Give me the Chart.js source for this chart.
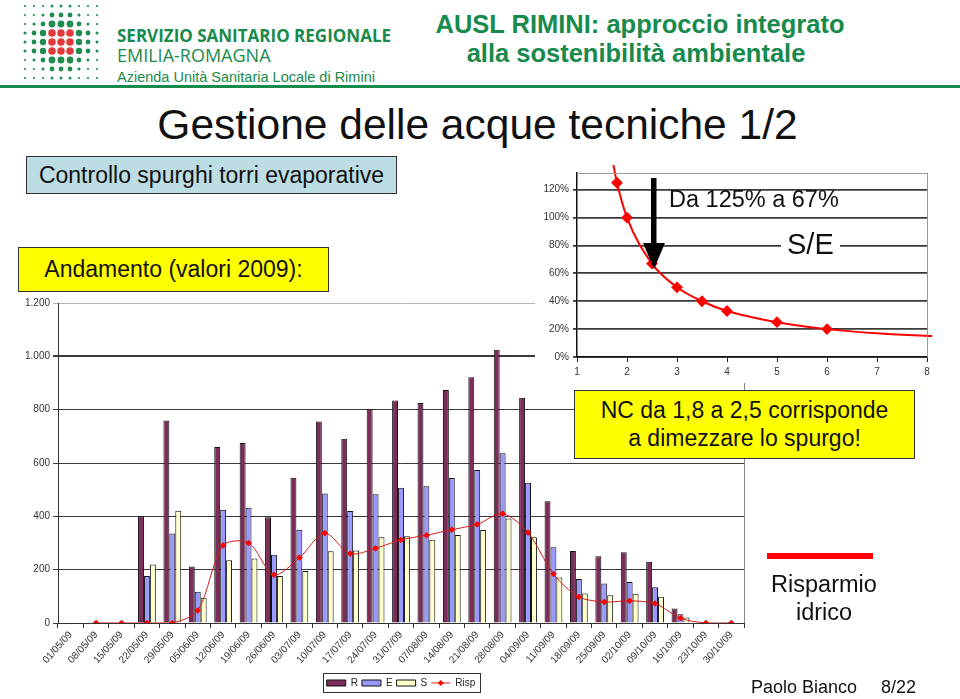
<!DOCTYPE html>
<html lang="it">
<head>
<meta charset="utf-8">
<title>Gestione delle acque tecniche 1/2</title>
<script src="https://cdn.jsdelivr.net/npm/chart.js@4/dist/chart.umd.min.js"></script>
<style>
  html, body { margin: 0; padding: 0; }
  body {
    width: 960px; height: 699px; overflow: hidden; position: relative;
    background: #fff; font-family: Arial, "Liberation Sans", sans-serif; color: #111;
  }
  .abs { position: absolute; white-space: nowrap; line-height: 1; }
  .green { color: #178a4c; }
  #logo { position: absolute; left: 0; top: 0; }
  .rule { position: absolute; left: 0; top: 85px; width: 960px; height: 3px; background: #178a4c; }
  .box { position: absolute; border: 1px solid #333; box-sizing: border-box; display: flex; align-items: center; justify-content: center; }
  #mainWrap { position: absolute; left: 0; top: 290px; width: 802px; height: 408px; }
  #insetWrap { position: absolute; left: 535px; top: 163px; width: 425px; height: 220px; background: #fff; }
</style>
</head>
<body>

<canvas id="logo" width="110" height="84"></canvas>
<div class="abs green" style="left:117px;top:27px;font-family:'Open Sans';font-weight:700;font-size:17px;">SERVIZIO SANITARIO REGIONALE</div>
<div class="abs green" style="left:117px;top:46px;font-family:'Open Sans';font-size:18px;">EMILIA-ROMAGNA</div>
<div class="abs green" style="left:117px;top:69.5px;font-size:14.5px;">Azienda Unità Sanitaria Locale di Rimini</div>
<div class="abs green" style="left:390px;width:500px;text-align:center;top:12px;font-weight:700;font-size:25.5px;">AUSL RIMINI: approccio integrato</div>
<div class="abs green" style="left:386px;width:500px;text-align:center;top:41px;font-weight:700;font-size:25.5px;">alla sostenibilità ambientale</div>
<div class="rule"></div>

<div class="abs" style="left:0;width:955px;text-align:center;top:104px;font-size:42.5px;">Gestione delle acque tecniche 1/2</div>

<div class="box" style="left:26px;top:156px;width:371px;height:38px;background:#bcdde3;font-size:23px;z-index:3;">Controllo spurghi torri evaporative</div>
<div class="box" style="left:18px;top:247px;width:311px;height:45px;background:#ffff00;font-size:23px;z-index:3;">Andamento (valori 2009):</div>

<div id="mainWrap"><canvas id="mainChart" width="802" height="408"></canvas></div>

<div id="insetWrap"><canvas id="insetChart" width="425" height="220"></canvas></div>
<div class="abs" style="left:669px;top:188px;font-size:23.5px;z-index:4;">Da 125% a 67%</div>
<div class="abs" style="left:781px;top:230px;font-size:29px;background:#fff;padding:0 6px;z-index:4;">S/E</div>
<svg class="abs" style="left:0;top:0;z-index:5;" width="960" height="300">
  <rect x="651" y="178" width="5.5" height="67" fill="#000"/>
  <polygon points="643,243 665,243 654,269" fill="#000"/>
</svg>

<div class="box" style="left:574px;top:390px;width:341px;height:69px;background:#ffff00;font-size:23px;line-height:28px;text-align:center;z-index:4;display:block;padding-top:5px;">NC da 1,8 a 2,5 corrisponde<br>a dimezzare lo spurgo!</div>

<div class="abs" style="left:767px;top:553px;width:106px;height:6px;background:#ff0000;"></div>
<div class="abs" style="left:724px;width:200px;text-align:center;top:570px;font-size:23.5px;line-height:28px;">Risparmio<br>idrico</div>

<div class="abs" style="left:751px;top:678px;font-size:18px;">Paolo Bianco</div>
<div class="abs" style="left:881px;top:678px;font-size:18px;">8/22</div>

<script>
/* ==========================================================================
   Data — weekly purge values 2009 (R, E, S, Risp) and S/E vs NC curve
   ========================================================================== */

const weeks = [
  '01/05/09', '08/05/09', '15/05/09', '22/05/09', '29/05/09', '05/06/09', '12/06/09',
  '19/06/09', '26/06/09', '03/07/09', '10/07/09', '17/07/09', '24/07/09', '31/07/09',
  '07/08/09', '14/08/09', '21/08/09', '28/08/09', '04/09/09', '11/09/09', '18/09/09',
  '25/09/09', '02/10/09', '09/10/09', '16/10/09', '23/10/09', '30/10/09'
];

const valuesR = [null, null, null, 400, 759, 212, 660, 675, 397, 545, 756, 691, 803, 834,
  825, 874, 922, 1025, 845, 457, 270, 250, 265, 230, 54, null, null];
const valuesE = [null, null, null, 176, 336, 117, 425, 432, 256, 350, 486, 420, 483, 507,
  513, 544, 574, 637, 526, 284, 165, 148, 154, 134, 33, null, null];
const valuesS = [null, null, null, 219, 421, 95, 235, 242, 176, 195, 269, 272, 322, 325,
  312, 330, 349, 392, 322, 171, 111, 104, 110, 98, 21, null, null];
const valuesRisp = [null, 0, 0, 0, 0, 47, 291, 300, 181, 245, 337, 260, 280, 312,
  329, 350, 370, 410, 339, 184, 98, 79, 83, 73, 18, 0, 0];

const yTicksMain = [0, 200, 400, 600, 800, 1000, 1200];

// inset: S/E ratio against concentration cycles (NC)
const ncValues = [1.7, 1.8, 2, 2.5, 3, 3.5, 4, 5, 6, 7, 8.1];
const seValues = [1.43, 1.25, 1.00, 0.67, 0.50, 0.40, 0.33, 0.25, 0.20, 0.17, 0.15];
const seMarked = [false, true, true, true, true, true, true, true, true, false, false];

const colors = { R: '#7b2c58', E: '#9999ff', S: '#ffffcc', risp: '#d41c1c', rispPoint: '#ff0000' };

/* ==========================================================================
   Logo dots
   ========================================================================== */

(function drawLogo() {
  const ctx = document.getElementById('logo').getContext('2d');
  const sizes = [
    [1.1, 1.1, 1.1, 1.5, 1.5, 1.5, 1.1, 1.1, 1.1],
    [1.1, 1.1, 1.5, 2.4, 2.4, 2.4, 1.5, 1.1, 1.1],
    [1.1, 1.5, 2.4, 3.4, 3.4, 3.4, 2.4, 1.5, 1.1],
    [1.5, 2.4, 3.2, 3.8, 3.8, 3.8, 3.2, 2.4, 1.5],
    [1.5, 2.4, 3.2, 3.8, 3.8, 3.8, 3.2, 2.4, 1.5],
    [1.5, 2.4, 3.2, 3.8, 3.8, 3.8, 3.2, 2.4, 1.5],
    [1.1, 1.5, 2.4, 3.4, 3.4, 3.4, 2.4, 1.5, 1.1],
    [1.1, 1.1, 1.5, 2.4, 2.4, 2.4, 1.5, 1.1, 1.1],
    [1.1, 1.1, 1.1, 1.5, 1.5, 1.5, 1.1, 1.1, 1.1]
  ];
  sizes.forEach((row, r) => row.forEach((rad, c) => {
    const red = r >= 3 && r <= 5 && c >= 3 && c <= 5;
    ctx.fillStyle = red ? '#e2393c' : '#1f8c4e';
    ctx.beginPath();
    ctx.arc(25 + c * 9, 6 + r * 9, rad, 0, Math.PI * 2);
    ctx.fill();
  }));
})();

/* ==========================================================================
   Chart helpers
   ========================================================================== */

Chart.defaults.font.family = 'Arial, "Liberation Sans", sans-serif';
Chart.defaults.color = '#333';

const fmtThousands = v => v >= 1000 ? Math.floor(v / 1000) + '.' + String(v % 1000).padStart(3, '0') : String(v);

// frame lines + legend box with the Risp line/marker sample
const slideExtras = {
  id: 'slideExtras',
  afterDraw(chart, args, opts) {
    const { ctx, chartArea: a } = chart;
    ctx.save();
    ctx.strokeStyle = opts.frameColor || '#888';
    ctx.lineWidth = 1;
    ctx.beginPath();
    if (opts.right) {
      const x = Math.round(a.right) + 0.5;
      ctx.moveTo(x, a.top); ctx.lineTo(x, a.bottom);
    }
    if (opts.top) {
      const y = Math.round(a.top) + 0.5;
      ctx.moveTo(a.left, y); ctx.lineTo(a.right, y);
    }
    ctx.stroke();

    const lg = chart.legend;
    if (opts.legendFrame && lg && lg.legendHitBoxes && lg.legendHitBoxes.length) {
      const hb = lg.legendHitBoxes;
      const l = Math.min(...hb.map(h => h.left)) - 4;
      const r = Math.max(...hb.map(h => h.left + h.width)) + 4;
      const t = Math.min(...hb.map(h => h.top)) - 5;
      const b = Math.max(...hb.map(h => h.top + h.height)) + 4;
      ctx.strokeStyle = '#333';
      ctx.strokeRect(Math.round(l) + 0.5, Math.round(t) + 0.5, Math.round(r - l), Math.round(b - t));

      const idx = lg.legendItems.findIndex(it => it.text === 'Risp');
      if (idx >= 0) {
        const h = hb[idx];
        const bw = lg.options.labels.boxWidth;
        const cy = h.top + h.height / 2;
        ctx.strokeStyle = colors.risp;
        ctx.beginPath();
        ctx.moveTo(h.left, cy); ctx.lineTo(h.left + bw, cy);
        ctx.stroke();
        ctx.fillStyle = colors.rispPoint;
        ctx.beginPath();
        const cx = h.left + bw / 2;
        ctx.moveTo(cx, cy - 3); ctx.lineTo(cx + 3, cy); ctx.lineTo(cx, cy + 3); ctx.lineTo(cx - 3, cy);
        ctx.closePath();
        ctx.fill();
      }
    }
    ctx.restore();
  }
};

/* ==========================================================================
   Main chart — R / E / S bars and Risp line
   ========================================================================== */

const barStyle = { borderColor: '#111', borderWidth: 1, barPercentage: 1, categoryPercentage: 0.7, order: 1 };

new Chart(document.getElementById('mainChart'), {
  type: 'bar',
  data: {
    labels: weeks,
    datasets: [
      { label: 'R', data: valuesR, backgroundColor: colors.R, ...barStyle },
      { label: 'E', data: valuesE, backgroundColor: colors.E, ...barStyle },
      { label: 'S', data: valuesS, backgroundColor: colors.S, ...barStyle },
      {
        type: 'line', label: 'Risp', data: valuesRisp, order: 0,
        borderColor: colors.risp, borderWidth: 1, tension: 0.3,
        pointStyle: 'rectRot', pointRadius: 2.8,
        pointBackgroundColor: colors.rispPoint, pointBorderColor: colors.rispPoint
      }
    ]
  },
  options: {
    responsive: false, animation: false,
    layout: { padding: { top: 13, left: 0, right: 0, bottom: 0 } },
    plugins: {
      tooltip: { enabled: false },
      legend: {
        position: 'bottom',
        labels: {
          boxWidth: 19, boxHeight: 6, padding: 4, color: '#222',
          font: { size: 10 },
          sort: (a, b) => a.datasetIndex - b.datasetIndex,
          generateLabels: chart => Chart.defaults.plugins.legend.labels.generateLabels(chart).map(item =>
            item.text === 'Risp' ? { ...item, fillStyle: 'rgba(0,0,0,0)', strokeStyle: 'rgba(0,0,0,0)', lineWidth: 0 } : item)
        }
      },
      slideExtras: { right: true, frameColor: '#888', legendFrame: true }
    },
    scales: {
      x: {
        grid: { drawOnChartArea: false, tickLength: 5, color: '#333' },
        border: { color: '#333' },
        ticks: { minRotation: 48, maxRotation: 48, autoSkip: false, padding: 1, font: { size: 10 }, color: '#333' },
        afterFit: s => { s.height = 51; }
      },
      y: {
        min: 0, max: 1200,
        afterBuildTicks: s => { s.ticks = yTicksMain.map(v => ({ value: v })); },
        grid: {
          tickLength: 5,
          color: c => c.tick && c.tick.value === 1200 ? '#b4b4b4' : '#3a3a3a',
          lineWidth: c => c.tick && c.tick.value === 1000 ? 2 : 1
        },
        border: { color: '#333' },
        ticks: { padding: 3, font: { size: 10 }, color: '#333', callback: v => fmtThousands(v) },
        afterFit: s => { s.width = 58; }
      },
      y2: {
        position: 'right', display: true,
        grid: { display: false }, border: { display: false }, ticks: { display: false },
        afterFit: s => { s.width = 58; }
      }
    }
  },
  plugins: [slideExtras]
});

/* ==========================================================================
   Inset chart — S/E (%) vs NC
   ========================================================================== */

new Chart(document.getElementById('insetChart'), {
  type: 'line',
  data: {
    datasets: [{
      label: 'S/E',
      data: ncValues.map((x, i) => ({ x, y: seValues[i] })),
      borderColor: '#ff0000', borderWidth: 2,
      cubicInterpolationMode: 'monotone',
      pointStyle: 'rectRot',
      pointRadius: seMarked.map(m => m ? 4.5 : 0),
      pointBackgroundColor: '#ff0000', pointBorderColor: '#ff0000',
      clip: 8
    }]
  },
  options: {
    responsive: false, animation: false,
    layout: { padding: { top: 7, left: 0, right: 33, bottom: 0 } },
    plugins: { legend: { display: false }, tooltip: { enabled: false }, slideExtras: { right: true, top: true, frameColor: '#999' } },
    scales: {
      x: {
        type: 'linear', min: 1, max: 8,
        ticks: { stepSize: 1, padding: 4, font: { size: 10 }, color: '#333' },
        grid: { drawOnChartArea: false, tickLength: 5, color: '#222' },
        border: { color: '#111', width: 1.5 },
        afterFit: s => { s.height = 26; }
      },
      y: {
        min: 0, max: 1.32,
        ticks: { stepSize: 0.2, includeBounds: false, padding: 4, font: { size: 10 }, color: '#333',
          callback: v => Math.round(v * 100) + '%' },
        grid: { tickLength: 4, color: '#3a3a3a', lineWidth: 1.8 },
        border: { color: '#111', width: 1.5 },
        afterFit: s => { s.width = 42; }
      }
    }
  },
  plugins: [slideExtras]
});
</script>
</body>
</html>
